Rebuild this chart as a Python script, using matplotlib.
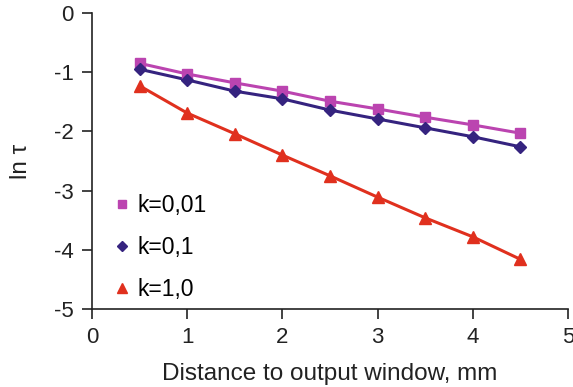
import matplotlib
matplotlib.use("Agg")
import matplotlib.pyplot as plt

plt.rcParams['font.family'] = ['Liberation Sans', 'DejaVu Sans']

x = [0.5, 1.0, 1.5, 2.0, 2.5, 3.0, 3.5, 4.0, 4.5]
k001 = [-0.85, -1.03, -1.18, -1.32, -1.49, -1.62, -1.76, -1.89, -2.03]
k01 = [-0.95, -1.13, -1.32, -1.45, -1.64, -1.79, -1.94, -2.09, -2.26]
k10 = [-1.23, -1.69, -2.04, -2.40, -2.75, -3.11, -3.46, -3.78, -4.16]
labels = ['k=0,01', 'k=0,1', 'k=1,0']

fig = plt.figure(figsize=(5.73, 3.87), dpi=100)
ax = fig.add_axes([0.1606, 0.2016, 0.8304, 0.7648])

series = [(k001, '#bb44b0', 's', 7.5), (k01, '#35237f', 'D', 6.5), (k10, '#e0301e', '^', 9)]
for ys, c, m, ms in series:
    ax.plot(x, ys, color=c, lw=2.2, zorder=2)
for (ys, c, m, ms), lab in zip(series, labels):
    ax.plot(x, ys, linestyle='none', marker=m, color=c, markersize=ms, label=lab, zorder=3)

ax.set_xlim(0, 5)
ax.set_ylim(-5, 0)
ax.set_xticks([0, 1, 2, 3, 4, 5])
ax.set_yticks([0, -1, -2, -3, -4, -5])
ax.set_yticklabels(['0', '-1', '-2', '-3', '-4', '-5'])
for s in ['top', 'right']:
    ax.spines[s].set_visible(False)
for s in ['left', 'bottom']:
    ax.spines[s].set_linewidth(1.2)
    ax.spines[s].set_color('#222222')
ax.tick_params(direction='out', length=7, width=1.2, labelsize=16, colors='#222222', pad=6)
ax.set_xlabel('Distance to output window, mm', fontsize=17.5, color='#222222', labelpad=11)
ax.set_ylabel('ln τ', fontsize=17.5, color='#222222', labelpad=16)

leg = ax.legend(loc='lower left', bbox_to_anchor=(-0.005, -0.042), frameon=False, fontsize=16.5,
          handlelength=1.0, handletextpad=0.2, labelspacing=0.82, markerscale=0.85)

fig.savefig('out.png', dpi=100)
